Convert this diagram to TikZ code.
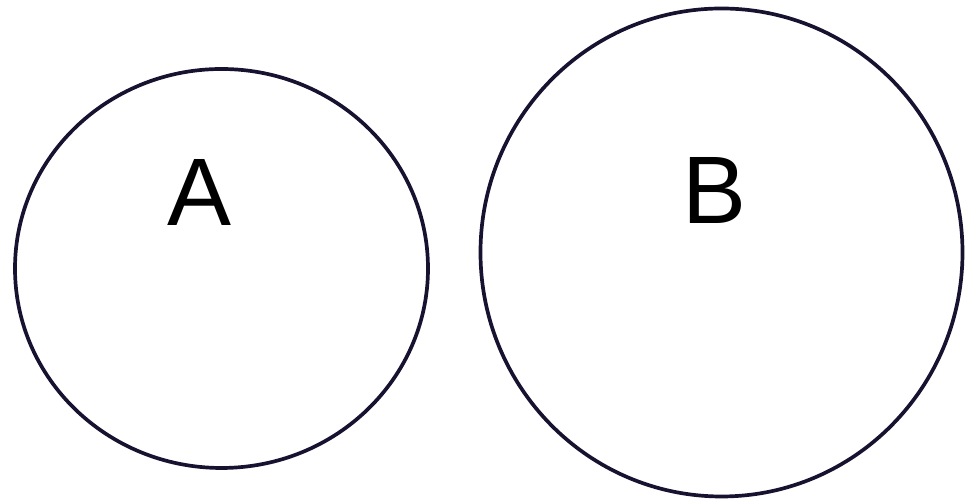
\documentclass[tikz,border=0pt]{standalone}
\usepackage{fontspec}
\setmainfont{Liberation Sans}
\usetikzlibrary{shapes.geometric}
\definecolor{ringink}{RGB}{22,18,48}
\begin{document}
\begin{tikzpicture}[
  ring/.style={draw=ringink, line width=2.1pt, ellipse, inner sep=0pt, outer sep=0pt},
  letter/.style={font=\fontsize{54.6}{60}\selectfont, anchor=base, inner sep=0pt}]
  \useasboundingbox (0,0) rectangle (19.3,10);
  \node[ring, minimum width=8.26cm, minimum height=7.98cm] (setA) at (4.43,4.63) {};
  \node[ring, minimum width=9.64cm, minimum height=9.76cm] (setB) at (14.43,4.95) {};
  \node[letter] (labA) at (3.99,5.48) {A};
  \node[letter] (labB) at (14.29,5.52) {B};
\end{tikzpicture}
\end{document}
